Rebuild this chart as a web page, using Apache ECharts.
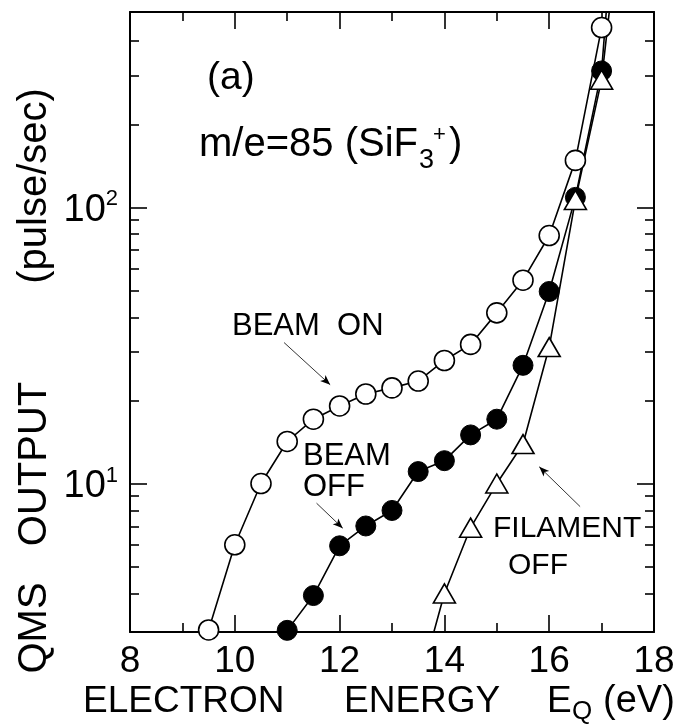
<!DOCTYPE html>
<html>
<head>
<meta charset="utf-8">
<script src="https://cdn.jsdelivr.net/npm/echarts@6/dist/echarts.min.js"></script>
<style>
  html, body { margin: 0; padding: 0; background: #fff; }
  #chart { width: 687px; height: 726px; }
</style>
</head>
<body>
<div id="chart"></div>
<script>
// Electron energy (eV) and QMS count rate (pulse/sec) for each run
const energyBeamOn = [9.5, 10, 10.5, 11, 11.5, 12, 12.5, 13, 13.5, 14, 14.5, 15, 15.5, 16, 16.5, 17];
const beamOn = [2.95, 6.0, 10.0, 14.2, 17.1, 19.1, 21.1, 22.2, 23.5, 27.9, 31.9, 41.5, 54.5, 79.1, 148, 448];

const energyBeamOff = [11, 11.5, 12, 12.5, 13, 13.5, 14, 14.5, 15, 15.5, 16, 16.5, 17, 17.5];
const beamOff = [2.94, 3.93, 5.95, 7.02, 7.99, 11.05, 12.1, 15.0, 17.1, 26.8, 49.6, 108.7, 312, 5000];

const energyFilamentOff = [13.5, 14, 14.5, 15, 15.5, 16, 16.5, 17, 17.5];
const filamentOff = [1.8, 4.0, 6.92, 10.0, 13.9, 31.2, 106.4, 290, 2000];

// Axis ranges and tick values
const xRange = [8, 18];
const yRange = [2.9, 510];
const yMajorTicks = [10, 100];
const yMinorTicks = [4, 5, 6, 7, 8, 9, 20, 30, 40, 50, 60, 70, 80, 90, 200, 300, 400];

// Arrows pointing from the annotations to the curves: [[E, rate], [E, rate]]
const arrowBeamOn = [[10.94, 32.4], [11.82, 22.8]];
const arrowBeamOff = [[11.56, 8.49], [12.06, 6.89]];
const arrowFilamentOff = [[16.59, 8.25], [15.81, 11.5]];

const FONT = '"Liberation Sans", Arial, Helvetica, sans-serif';
const INK = '#000';

const pairs = (xs, ys) => xs.map((x, i) => [x, ys[i]]);

function xAxisDef(position, showLabel) {
  return {
    type: 'value',
    position: position,
    min: xRange[0], max: xRange[1], interval: 2,
    axisLine: { show: true, onZero: false, lineStyle: { color: INK, width: 2 } },
    axisTick: { show: true, inside: true, length: 17, lineStyle: { color: INK, width: 1.6 } },
    minorTick: { show: true, splitNumber: 2, length: 9, lineStyle: { color: INK, width: 1.6 } },
    axisLabel: {
      show: showLabel, color: INK, fontFamily: FONT, fontSize: 37, margin: 11
    },
    splitLine: { show: false },
    minorSplitLine: { show: false }
  };
}

function yAxisDef(position, ticks, len, showLine, showLabel) {
  return {
    type: 'log', logBase: 10,
    position: position,
    min: yRange[0], max: yRange[1],
    axisLine: { show: showLine, onZero: false, lineStyle: { color: INK, width: 2 } },
    axisTick: { show: true, inside: true, length: len, customValues: ticks,
      lineStyle: { color: INK, width: 1.6 } },
    axisLabel: {
      show: showLabel,
      customValues: yMajorTicks,
      margin: 12,
      padding: [6, 0, 0, 0],
      formatter: function (v) {
        return '{b|10}{s|' + Math.round(Math.log10(v)) + '}';
      },
      rich: {
        b: { fontFamily: FONT, fontSize: 38, color: INK, lineHeight: 44 },
        s: { fontFamily: FONT, fontSize: 22, color: INK, verticalAlign: 'top', lineHeight: 44 }
      }
    },
    splitLine: { show: false },
    minorTick: { show: false },
    minorSplitLine: { show: false }
  };
}

function arrowLine(a) {
  return [{ coord: a[0] }, { coord: a[1] }];
}

function text(x, y, str, size, align) {
  return {
    type: 'text', x: x, y: y, silent: true,
    style: {
      text: str, fill: INK, font: size + 'px ' + FONT,
      textAlign: align || 'left', textVerticalAlign: 'middle'
    }
  };
}

function upText(x, y, str, size) {
  const t = text(x, y, str, size, 'center');
  t.rotation = Math.PI / 2;
  return t;
}

const chart = echarts.init(document.getElementById('chart'), null, { renderer: 'canvas' });

chart.setOption({
  animation: false,
  backgroundColor: '#fff',
  grid: { left: 130, right: 33, top: 12, bottom: 94, containLabel: false },
  xAxis: [xAxisDef('bottom', true), xAxisDef('top', false)],
  yAxis: [
    yAxisDef('left', yMajorTicks, 17, true, true),
    yAxisDef('left', yMinorTicks, 9, false, false),
    yAxisDef('right', yMajorTicks, 17, true, false),
    yAxisDef('right', yMinorTicks, 9, false, false)
  ],
  series: [
    {
      name: 'BEAM OFF',
      type: 'line',
      data: pairs(energyBeamOff, beamOff),
      symbol: 'circle', symbolSize: 20, showAllSymbol: true,
      lineStyle: { color: INK, width: 1.6 },
      itemStyle: { color: INK, borderColor: INK, borderWidth: 1 },
      markLine: {
        silent: true, symbol: ['none', 'arrow'], symbolSize: [6, 10],
        lineStyle: { color: INK, width: 0.8, type: 'solid' },
        label: { show: false },
        data: [arrowLine(arrowBeamOff)]
      }
    },
    {
      name: 'FILAMENT OFF',
      type: 'line',
      data: pairs(energyFilamentOff, filamentOff),
      symbol: 'triangle', symbolSize: [22, 19], showAllSymbol: true,
      lineStyle: { color: INK, width: 1.6 },
      itemStyle: { color: '#fff', borderColor: INK, borderWidth: 1.6 },
      markLine: {
        silent: true, symbol: ['none', 'arrow'], symbolSize: [6, 10],
        lineStyle: { color: INK, width: 0.8, type: 'solid' },
        label: { show: false },
        data: [arrowLine(arrowFilamentOff)]
      }
    },
    {
      name: 'BEAM ON',
      type: 'line',
      data: pairs(energyBeamOn, beamOn),
      symbol: 'circle', symbolSize: 20, showAllSymbol: true,
      lineStyle: { color: INK, width: 1.6 },
      itemStyle: { color: '#fff', borderColor: INK, borderWidth: 1.6 },
      markLine: {
        silent: true, symbol: ['none', 'arrow'], symbolSize: [6, 10],
        lineStyle: { color: INK, width: 0.8, type: 'solid' },
        label: { show: false },
        data: [arrowLine(arrowBeamOn)]
      }
    }
  ],
  graphic: [
    text(207, 78, '(a)', 39),
    text(199, 145, 'm/e=85 (SiF', 40),
    text(419, 161, '3', 27),
    text(433, 135, '+', 22),
    text(449, 145, ')', 40),
    text(232, 326, 'BEAM  ON', 31),
    text(303, 456, 'BEAM', 31),
    text(303, 487, 'OFF', 31),
    text(493, 529, 'FILAMENT', 30),
    text(508, 566, 'OFF', 30),
    // axis titles
    text(83, 702, 'ELECTRON', 37),
    text(344, 702, 'ENERGY', 37),
    text(547, 702, 'E', 37),
    text(572, 712, 'Q', 26),
    text(603, 702, '(eV)', 38),
    upText(35, 628, 'QMS', 40),
    upText(35, 464, 'OUTPUT', 40),
    upText(35, 186, '(pulse/sec)', 40)
  ]
});
</script>
</body>
</html>
